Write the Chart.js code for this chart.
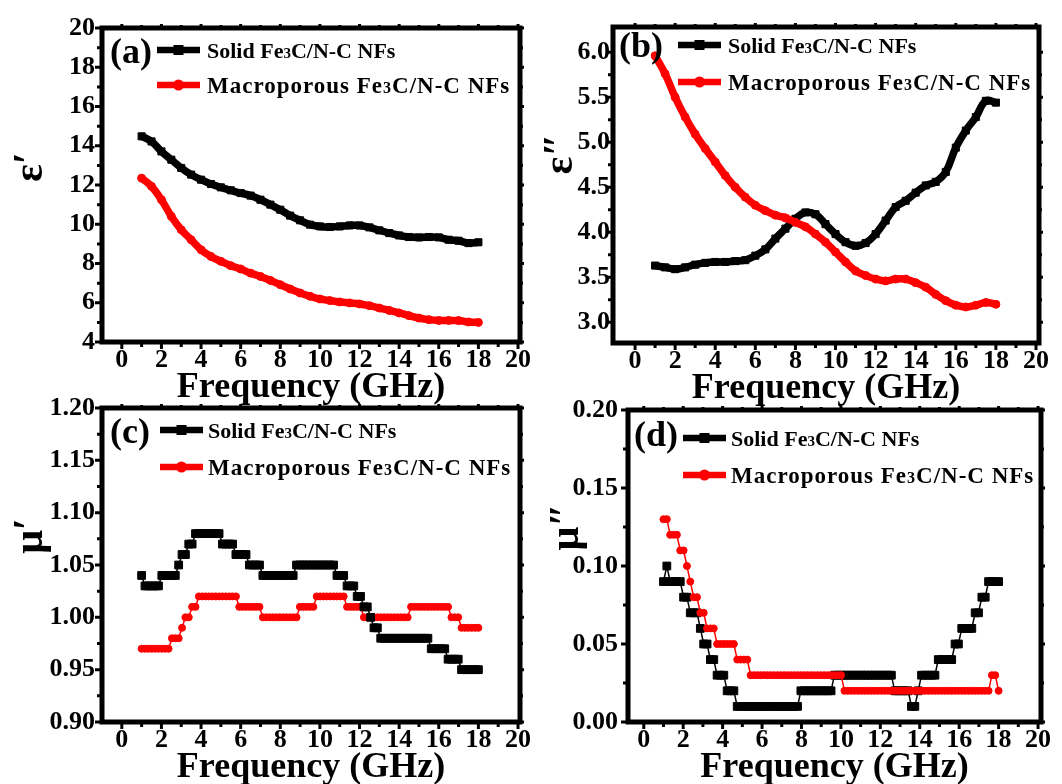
<!DOCTYPE html>
<html>
<head>
<meta charset="utf-8">
<script src="https://cdn.jsdelivr.net/npm/chart.js@4.4.1/dist/chart.umd.min.js"></script>
<style>
  html, body { margin: 0; padding: 0; background: #fff; overflow: hidden; width: 1062px; height: 784px; }
  canvas { position: absolute; }
</style>
</head>
<body>
<canvas id="pa" width="531" height="409" style="left:0;top:0"></canvas>
<canvas id="pb" width="531" height="410" style="left:531px;top:0"></canvas>
<canvas id="pc" width="531" height="409" style="left:0;top:380px"></canvas>
<canvas id="pd" width="531" height="409" style="left:531px;top:380px"></canvas>
<script>
const seriesNames = ['Solid Fe3C/N-C NFs', 'Macroporous Fe3C/N-C NFs'];

// panels (a), (b): 1-18 GHz read every 0.5 GHz
const freqAB = [1, 1.5, 2, 2.5, 3, 3.5, 4, 4.5, 5, 5.5, 6, 6.5, 7, 7.5, 8, 8.5, 9, 9.5,
  10, 10.5, 11, 11.5, 12, 12.5, 13, 13.5, 14, 14.5, 15, 15.5, 16, 16.5, 17, 17.5, 18];

const epsRealSolid = [14.48, 14.22, 13.71, 13.29, 12.87, 12.53, 12.27, 12.05, 11.88, 11.73,
  11.59, 11.46, 11.25, 11.00, 10.74, 10.44, 10.20, 9.98, 9.89, 9.86,
  9.89, 9.94, 9.94, 9.84, 9.69, 9.55, 9.43, 9.35, 9.33, 9.35,
  9.33, 9.21, 9.16, 9.04, 9.08];
const epsRealMacro = [12.35, 11.93, 11.25, 10.40, 9.72, 9.21, 8.70, 8.36, 8.11, 7.89,
  7.72, 7.51, 7.34, 7.14, 6.92, 6.70, 6.50, 6.33, 6.19, 6.11,
  6.04, 5.99, 5.94, 5.85, 5.73, 5.61, 5.48, 5.34, 5.22, 5.14,
  5.10, 5.10, 5.09, 5.02, 5.00];

const epsImagSolid = [3.63, 3.61, 3.59, 3.61, 3.64, 3.66, 3.67, 3.67, 3.68, 3.69,
  3.74, 3.81, 3.93, 4.04, 4.15, 4.22, 4.20, 4.09, 3.98, 3.89,
  3.85, 3.88, 3.98, 4.13, 4.28, 4.35, 4.44, 4.52, 4.56, 4.67,
  4.94, 5.13, 5.28, 5.46, 5.44];
const epsImagMacro = [5.96, 5.76, 5.50, 5.28, 5.09, 4.93, 4.78, 4.63, 4.50, 4.39,
  4.30, 4.24, 4.19, 4.16, 4.11, 4.06, 3.98, 3.89, 3.78, 3.67,
  3.57, 3.52, 3.48, 3.46, 3.48, 3.48, 3.44, 3.39, 3.31, 3.24,
  3.19, 3.17, 3.19, 3.22, 3.20];

// panels (c), (d): 101 measured points, 1-18 GHz
const freqCD = [1.00, 1.17, 1.34, 1.51, 1.68, 1.85, 2.02, 2.19, 2.36, 2.53,
  2.70, 2.87, 3.04, 3.21, 3.38, 3.55, 3.72, 3.89, 4.06, 4.23,
  4.40, 4.57, 4.74, 4.91, 5.08, 5.25, 5.42, 5.59, 5.76, 5.93,
  6.10, 6.27, 6.44, 6.61, 6.78, 6.95, 7.12, 7.29, 7.46, 7.63,
  7.80, 7.97, 8.14, 8.31, 8.48, 8.65, 8.82, 8.99, 9.16, 9.33,
  9.50, 9.67, 9.84, 10.01, 10.18, 10.35, 10.52, 10.69, 10.86, 11.03,
  11.20, 11.37, 11.54, 11.71, 11.88, 12.05, 12.22, 12.39, 12.56, 12.73,
  12.90, 13.07, 13.24, 13.41, 13.58, 13.75, 13.92, 14.09, 14.26, 14.43,
  14.60, 14.77, 14.94, 15.11, 15.28, 15.45, 15.62, 15.79, 15.96, 16.13,
  16.30, 16.47, 16.64, 16.81, 16.98, 17.15, 17.32, 17.49, 17.66, 17.83,
  18.00];

const muRealSolid = [1.04, 1.03, 1.03, 1.03, 1.03, 1.03, 1.04, 1.04, 1.04, 1.04,
  1.04, 1.05, 1.06, 1.06, 1.07, 1.07, 1.08, 1.08, 1.08, 1.08,
  1.08, 1.08, 1.08, 1.08, 1.07, 1.07, 1.07, 1.07, 1.06, 1.06,
  1.06, 1.06, 1.05, 1.05, 1.05, 1.05, 1.04, 1.04, 1.04, 1.04,
  1.04, 1.04, 1.04, 1.04, 1.04, 1.04, 1.05, 1.05, 1.05, 1.05,
  1.05, 1.05, 1.05, 1.05, 1.05, 1.05, 1.05, 1.05, 1.04, 1.04,
  1.04, 1.03, 1.03, 1.03, 1.02, 1.02, 1.01, 1.01, 1.00, 0.99,
  0.99, 0.98, 0.98, 0.98, 0.98, 0.98, 0.98, 0.98, 0.98, 0.98,
  0.98, 0.98, 0.98, 0.98, 0.98, 0.98, 0.97, 0.97, 0.97, 0.97,
  0.97, 0.96, 0.96, 0.96, 0.96, 0.95, 0.95, 0.95, 0.95, 0.95,
  0.95];
const muRealMacro = [0.97, 0.97, 0.97, 0.97, 0.97, 0.97, 0.97, 0.97, 0.97, 0.98,
  0.98, 0.98, 0.99, 1.00, 1.00, 1.01, 1.01, 1.02, 1.02, 1.02,
  1.02, 1.02, 1.02, 1.02, 1.02, 1.02, 1.02, 1.02, 1.02, 1.01,
  1.01, 1.01, 1.01, 1.01, 1.01, 1.01, 1.00, 1.00, 1.00, 1.00,
  1.00, 1.00, 1.00, 1.00, 1.00, 1.00, 1.00, 1.01, 1.01, 1.01,
  1.01, 1.01, 1.02, 1.02, 1.02, 1.02, 1.02, 1.02, 1.02, 1.02,
  1.02, 1.01, 1.01, 1.01, 1.01, 1.01, 1.00, 1.00, 1.00, 1.00,
  1.00, 1.00, 1.00, 1.00, 1.00, 1.00, 1.00, 1.00, 1.00, 1.00,
  1.01, 1.01, 1.01, 1.01, 1.01, 1.01, 1.01, 1.01, 1.01, 1.01,
  1.01, 1.01, 1.00, 1.00, 1.00, 0.99, 0.99, 0.99, 0.99, 0.99,
  0.99];

const muImagSolid = [0.09, 0.10, 0.09, 0.09, 0.09, 0.09, 0.08, 0.08, 0.07, 0.07,
  0.07, 0.06, 0.05, 0.05, 0.04, 0.04, 0.03, 0.03, 0.03, 0.02,
  0.02, 0.02, 0.01, 0.01, 0.01, 0.01, 0.01, 0.01, 0.01, 0.01,
  0.01, 0.01, 0.01, 0.01, 0.01, 0.01, 0.01, 0.01, 0.01, 0.01,
  0.01, 0.02, 0.02, 0.02, 0.02, 0.02, 0.02, 0.02, 0.02, 0.02,
  0.02, 0.03, 0.03, 0.03, 0.03, 0.03, 0.03, 0.03, 0.03, 0.03,
  0.03, 0.03, 0.03, 0.03, 0.03, 0.03, 0.03, 0.03, 0.03, 0.02,
  0.02, 0.02, 0.02, 0.02, 0.01, 0.01, 0.02, 0.03, 0.03, 0.03,
  0.03, 0.03, 0.04, 0.04, 0.04, 0.04, 0.04, 0.05, 0.05, 0.06,
  0.06, 0.06, 0.06, 0.07, 0.07, 0.08, 0.08, 0.09, 0.09, 0.09,
  0.09];
const muImagMacro = [0.13, 0.13, 0.12, 0.12, 0.12, 0.11, 0.11, 0.10, 0.09, 0.08,
  0.08, 0.07, 0.07, 0.06, 0.06, 0.06, 0.05, 0.05, 0.05, 0.05,
  0.05, 0.05, 0.04, 0.04, 0.04, 0.04, 0.03, 0.03, 0.03, 0.03,
  0.03, 0.03, 0.03, 0.03, 0.03, 0.03, 0.03, 0.03, 0.03, 0.03,
  0.03, 0.03, 0.03, 0.03, 0.03, 0.03, 0.03, 0.03, 0.03, 0.03,
  0.03, 0.03, 0.03, 0.03, 0.02, 0.02, 0.02, 0.02, 0.02, 0.02,
  0.02, 0.02, 0.02, 0.02, 0.02, 0.02, 0.02, 0.02, 0.02, 0.02,
  0.02, 0.02, 0.02, 0.02, 0.02, 0.02, 0.02, 0.02, 0.02, 0.02,
  0.02, 0.02, 0.02, 0.02, 0.02, 0.02, 0.02, 0.02, 0.02, 0.02,
  0.02, 0.02, 0.02, 0.02, 0.02, 0.02, 0.02, 0.02, 0.03, 0.03,
  0.02];

// tick labels
const xTicks = [0, 2, 4, 6, 8, 10, 12, 14, 16, 18, 20];
const yTicksA = [4, 6, 8, 10, 12, 14, 16, 18, 20];
const yTicksB = [3.0, 3.5, 4.0, 4.5, 5.0, 5.5, 6.0];
const yTicksC = [0.90, 0.95, 1.00, 1.05, 1.10, 1.15, 1.20];
const yTicksD = [0.00, 0.05, 0.10, 0.15, 0.20];

const FONT = '"Liberation Serif", "Times New Roman", serif';

function drawName(ctx, text, x, y, size, spacing) {
  const big = 'bold ' + size + 'px ' + FONT;
  const small = 'bold ' + Math.round(size * 0.68) + 'px ' + FONT;
  ctx.letterSpacing = spacing + 'px';
  let cx = x;
  text.split('3').forEach((part, i) => {
    if (i > 0) {
      ctx.font = small;
      ctx.fillText('3', cx, y);
      cx += ctx.measureText('3').width;
    }
    ctx.font = big;
    ctx.fillText(part, cx, y);
    cx += ctx.measureText(part).width;
  });
  ctx.letterSpacing = '0px';
}

const framePlugin = {
  id: 'frame',
  afterDraw(chart, args, o) {
    const { ctx, chartArea: a } = chart;
    const sx = chart.scales.x, sy = chart.scales.y;
    const xs = sx.ticks.map(t => t.value);
    const ys = sy.ticks.map(t => t.value);
    const mid = v => v.slice(1).map((w, i) => (w + v[i]) / 2);

    ctx.save();
    ctx.strokeStyle = '#000';
    ctx.lineWidth = 3;
    ctx.beginPath();
    const xt = (v, len, m) => {
      const p = sx.getPixelForValue(v);
      ctx.moveTo(p, a.bottom); ctx.lineTo(p, a.bottom + len);
      ctx.moveTo(p, a.top); ctx.lineTo(p, a.top - m);
    };
    const yt = (v, len, m) => {
      const p = sy.getPixelForValue(v);
      ctx.moveTo(a.left, p); ctx.lineTo(a.left - len, p);
      ctx.moveTo(a.right, p); ctx.lineTo(a.right + m, p);
    };
    xs.forEach(v => xt(v, 7, 4));
    mid(xs).forEach(v => xt(v, 5, 3));
    ys.forEach(v => yt(v, 7, 4));
    mid(ys).forEach(v => yt(v, 5, 3));
    ctx.stroke();

    ctx.lineWidth = 5;
    ctx.strokeRect(a.left, a.top, a.right - a.left, a.bottom - a.top);

    // panel letter
    ctx.fillStyle = '#000';
    ctx.font = 'bold 36px ' + FONT;
    ctx.textAlign = 'left';
    ctx.textBaseline = 'middle';
    ctx.fillText(o.letter, a.left + o.letterX, a.top + o.letterY);

    // legend
    ctx.textBaseline = 'alphabetic';
    chart.data.datasets.forEach((ds, i) => {
      const ly = a.top + o.rows[i];
      const x0 = a.left + o.lineX, x1 = x0 + 43, xm = (x0 + x1) / 2;
      ctx.strokeStyle = ds.borderColor;
      ctx.lineWidth = 6.5;
      ctx.beginPath(); ctx.moveTo(x0, ly); ctx.lineTo(x1, ly); ctx.stroke();
      ctx.fillStyle = ds.borderColor;
      if (ds.pointStyle === 'rect') {
        ctx.fillRect(xm - 5, ly - 5, 10, 10);
      } else {
        ctx.beginPath(); ctx.arc(xm, ly, 5.5, 0, Math.PI * 2); ctx.fill();
      }
      ctx.fillStyle = '#000';
      drawName(ctx, ds.label, a.left + o.textX, ly + 8, i === 0 ? 22 : 23, i === 0 ? 0 : 1);
    });

    // y title
    ctx.translate(a.left + o.titleX, a.top + o.titleY);
    ctx.rotate(-Math.PI / 2);
    ctx.textAlign = 'center';
    ctx.textBaseline = 'middle';
    ctx.font = 'bold 42px ' + FONT;
    ctx.fillText(o.yTitle, 0, 0);
    ctx.restore();
  }
};

function makePanel(id, p) {
  const thick = p.thick;
  const solid = {
    label: seriesNames[0],
    data: p.x.map((f, i) => ({ x: f, y: p.solid[i] })),
    borderColor: '#000000',
    backgroundColor: '#000000',
    pointStyle: 'rect',
    pointRadius: thick ? 5 : 5.5,
    pointBorderWidth: 1,
    borderWidth: thick ? 7.5 : 1.5,
    tension: thick ? 0.4 : 0,
    order: p.redOnTop ? 1 : 0
  };
  const macro = {
    label: seriesNames[1],
    data: p.x.map((f, i) => ({ x: f, y: p.macro[i] })),
    borderColor: '#ff0000',
    backgroundColor: '#ff0000',
    pointStyle: 'circle',
    pointRadius: thick ? 4 : 3.5,
    pointBorderWidth: 1,
    borderWidth: thick ? 7.5 : 1.5,
    tension: thick ? 0.4 : 0,
    order: p.redOnTop ? 0 : 1
  };
  const tickFont = { family: FONT, size: 26, weight: 'bold' };
  new Chart(document.getElementById(id), {
    type: 'line',
    data: { datasets: [solid, macro] },
    options: {
      responsive: false,
      animation: false,
      devicePixelRatio: 1,
      layout: { padding: { top: p.top, right: p.right, left: 0, bottom: 0 } },
      plugins: { legend: { display: false }, tooltip: { enabled: false }, frame: p.frame },
      scales: {
        x: {
          type: 'linear',
          min: p.xMin,
          max: p.xMax,
          grid: { display: false, drawTicks: false },
          border: { display: false },
          afterBuildTicks: s => { s.ticks = xTicks.map(v => ({ value: v })); },
          afterFit: s => { s.height = 67; s.paddingLeft = 0; s.paddingRight = 0; },
          ticks: { autoSkip: false, maxRotation: 0, padding: 3, color: '#000', font: tickFont },
          title: {
            display: true, text: 'Frequency (GHz)', color: '#000', padding: 0,
            font: { family: FONT, size: 36, weight: 'bold' }
          }
        },
        y: {
          min: p.yMin,
          max: p.yMax,
          grid: { display: false, drawTicks: false },
          border: { display: false },
          afterBuildTicks: s => { s.ticks = p.yTicks.map(v => ({ value: v })); },
          afterFit: s => { s.width = p.yWidth; s.paddingTop = 0; s.paddingBottom = 0; },
          ticks: {
            autoSkip: false, padding: p.yPad, color: '#000', font: tickFont,
            callback: v => v.toFixed(p.dec)
          }
        }
      }
    },
    plugins: [framePlugin]
  });
}

makePanel('pa', {
  x: freqAB, solid: epsRealSolid, macro: epsRealMacro, thick: true, redOnTop: false,
  top: 28, right: 11, yWidth: 102, yPad: 7,
  xMin: -1, xMax: 20.1, yMin: 4, yMax: 20, yTicks: yTicksA, dec: 0,
  frame: { letter: '(a)', letterX: 8, letterY: 26, lineX: 55, rows: [22, 57], textX: 105, titleX: -71, titleY: 139, yTitle: 'ε′' }
});
makePanel('pb', {
  x: freqAB, solid: epsImagSolid, macro: epsImagMacro, thick: true, redOnTop: true,
  top: 27, right: 23, yWidth: 82, yPad: 3,
  xMin: -1.1, xMax: 20.15, yMin: 2.77, yMax: 6.28, yTicks: yTicksB, dec: 1,
  frame: { letter: '(b)', letterX: 6, letterY: 21, lineX: 65, rows: [18, 55], textX: 115, titleX: -52, titleY: 127, yTitle: 'ε″' }
});
makePanel('pc', {
  x: freqCD, solid: muRealSolid, macro: muRealMacro, thick: false, redOnTop: false,
  top: 28, right: 11, yWidth: 102, yPad: 7,
  xMin: -1, xMax: 20.1, yMin: 0.9, yMax: 1.2, yTicks: yTicksC, dec: 2,
  frame: { letter: '(c)', letterX: 8, letterY: 26, lineX: 58, rows: [22, 59], textX: 106, titleX: -71, titleY: 128, yTitle: 'μ′' }
});
makePanel('pd', {
  x: freqCD, solid: muImagSolid, macro: muImagMacro, thick: false, redOnTop: true,
  top: 30, right: 21, yWidth: 97, yPad: 10,
  xMin: -0.8, xMax: 20.15, yMin: 0, yMax: 0.2, yTicks: yTicksD, dec: 2,
  frame: { letter: '(d)', letterX: 6, letterY: 27, lineX: 55, rows: [28, 65], textX: 103, titleX: -61, titleY: 117, yTitle: 'μ″' }
});
</script>
</body>
</html>
